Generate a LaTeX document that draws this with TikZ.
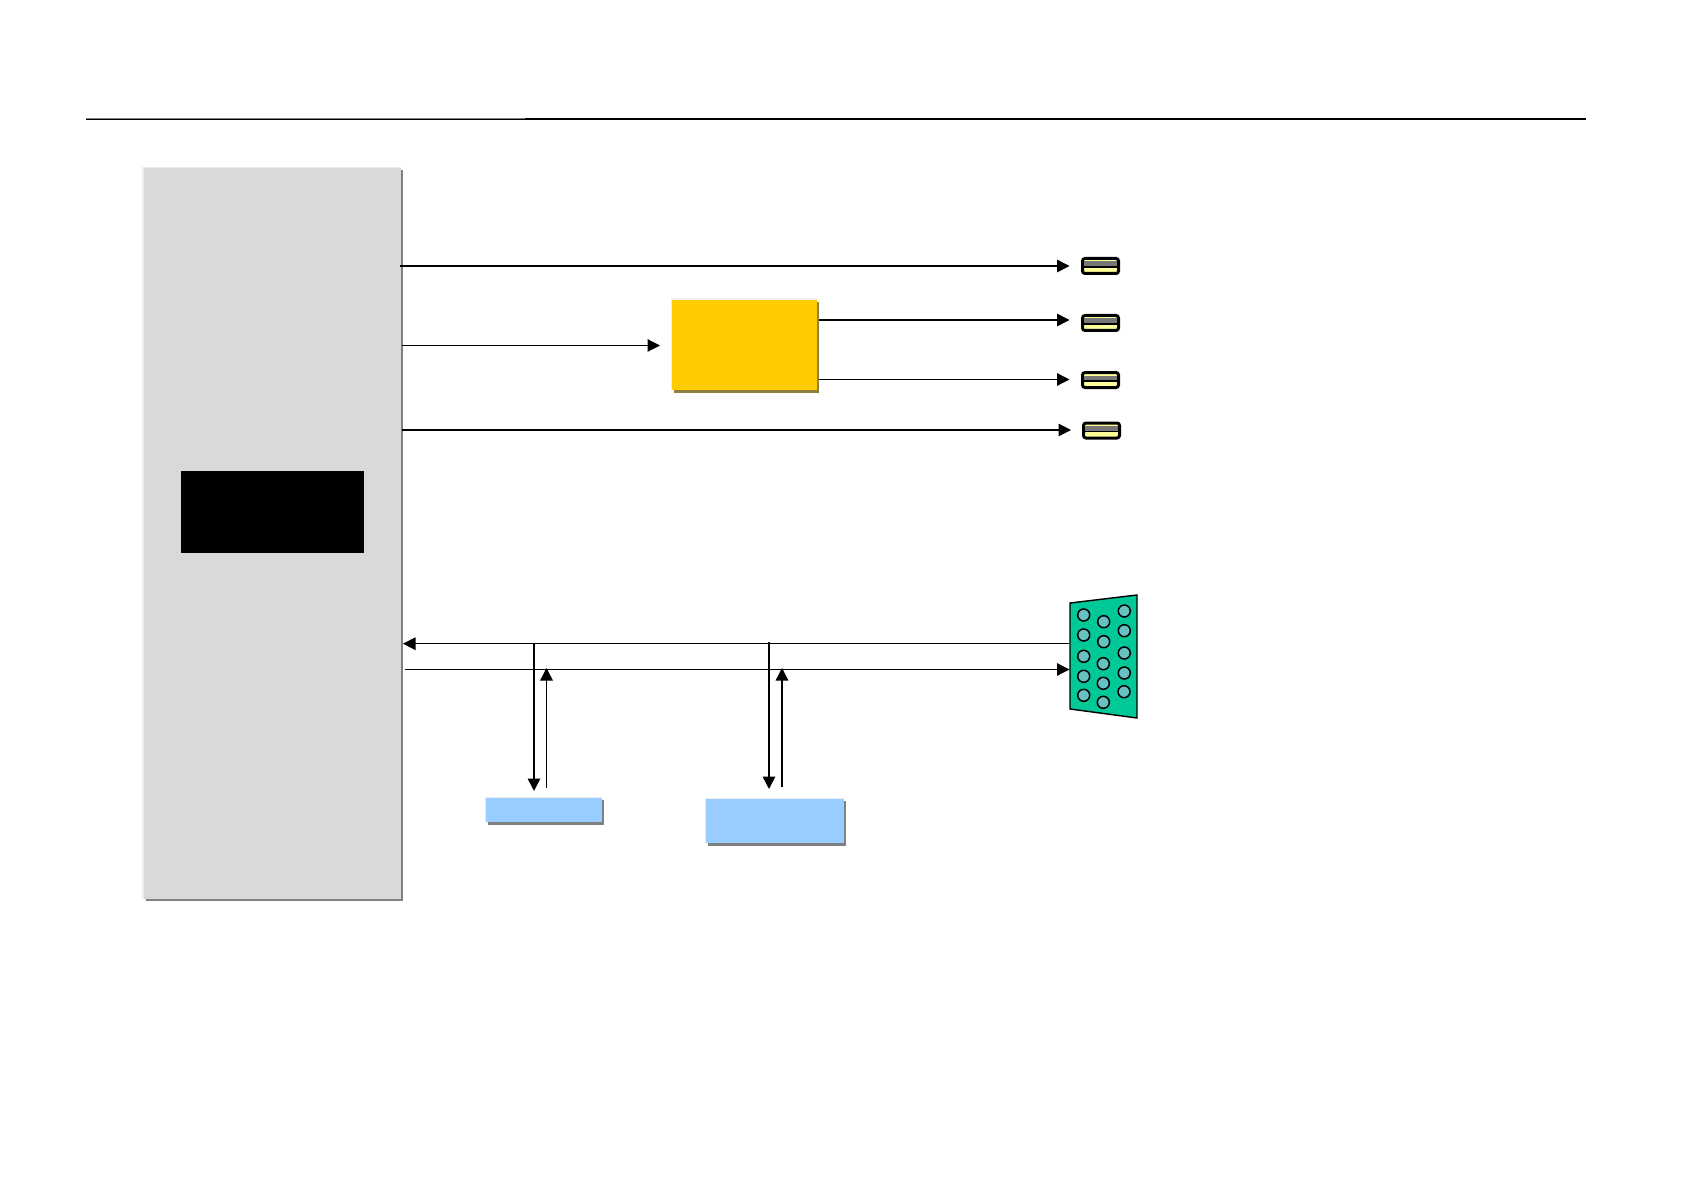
\documentclass[tikz,border=0pt]{standalone}
\usetikzlibrary{arrows.meta}
\definecolor{socgray}{HTML}{D9D9D9}
\definecolor{shadowgray}{HTML}{808080}
\definecolor{hubshadow}{HTML}{8C7F40}
\definecolor{edgelight}{HTML}{EDEDED}
\definecolor{bufyellow}{HTML}{FFCC00}
\definecolor{memblue}{HTML}{99CCFF}
\definecolor{vgagreen}{HTML}{00C896}
\definecolor{pinteal}{HTML}{66C2C2}
\definecolor{usbyellow}{HTML}{FFFF99}
\definecolor{usbgray}{HTML}{777777}
\tikzset{
  x=1pt,y=-1pt,
  flatbox/.style={draw=none,inner sep=0pt,outer sep=0pt,anchor=north west},
  wire/.style={draw=black,line width=1.5pt},
  thinwire/.style={draw=black,line width=1.2pt},
  tip/.style={-{Triangle[length=12.5pt,width=12.5pt]}},
  pin/.style={circle,draw=black,line width=1.5pt,fill=pinteal,minimum size=12pt,inner sep=0pt},
  usbshell/.style={flatbox,draw=black,line width=3pt,fill=usbyellow,rounded corners=2.5pt,minimum width=36pt,minimum height=15pt},
}
\newcommand{\usbport}[3]{%
  \node[usbshell] (#1) at (#2,#3) {};
  \fill[usbgray] (#2+1.5,#3+3) rectangle (#2+34.5,#3+8);
  \draw[black,line width=1.2pt] (#2+1,#3+8.5) -- (#2+35,#3+8.5);
}
\newcommand{\shadowbox}[7]{% name, x, y, w, h, colour, shadow colour
  \fill[edgelight] (#2-1.5,#3-1.5) rectangle (#2+#4,#3+#5);
  \fill[#7] (#2+2,#3+2) rectangle (#2+#4+2,#3+#5+2.5);
  \node[flatbox,fill=#6,minimum width=#4pt,minimum height=#5pt] (#1) at (#2,#3) {};
}
\begin{document}
\begin{tikzpicture}
\useasboundingbox[fill=white] (0,0) rectangle (1684,1190);

% top rule
\coordinate (ruleL) at (86,119);
\coordinate (ruleM) at (525,119);
\coordinate (ruleR) at (1586,119);
\draw[shadowgray,line width=1.6pt] (ruleL) -- (ruleM);
\draw[black,line width=0.7pt] (ruleL) -- (ruleM);
\draw[black,line width=1.4pt] (ruleM) -- (ruleR);

% main blocks
\shadowbox{soc}{143.5}{168.5}{257.5}{730}{socgray}{shadowgray}
\node[flatbox,fill=black,minimum width=183pt,minimum height=82.5pt] (chip) at (181,470.5) {};
\shadowbox{hub}{672}{300}{144.5}{90}{bufyellow}{hubshadow}
\shadowbox{memA}{486}{798}{116}{24}{memblue}{shadowgray}
\shadowbox{memB}{706}{799}{138}{44}{memblue}{shadowgray}

% USB ports
\usbport{usbA}{1082.5}{258.5}
\usbport{usbB}{1082.5}{315.5}
\usbport{usbC}{1082.5}{372.5}
\usbport{usbD}{1083.5}{423}

% VGA connector
\draw[black,line width=1.4pt,fill=vgagreen] (1070,603) -- (1137,595) -- (1137,718) -- (1070,709) -- cycle;
\foreach \n/\px/\py in {a/1083.7/615,b/1083.7/635,c/1083.7/656.3,d/1083.7/676.3,e/1083.7/695.3,
                    f/1103.7/621.7,g/1103.7/641.7,h/1103.3/663.7,i/1103.3/683.3,j/1103.3/702.3,
                    k/1124.3/611,l/1124.3/630.7,m/1124.3/653,n/1124.3/673,o/1124/691.7}
  \node[pin] (pin\n) at (\px,\py) {};

% free ends of the connectors
\coordinate (endA) at (1069.5,266);
\coordinate (endB) at (1069.5,320);
\coordinate (endC) at (1069.5,379.5);
\coordinate (endD) at (1071,430);
\coordinate (hubIn) at (660,345.5);
\coordinate (hubOutB) at (819,320);
\coordinate (hubOutC) at (819,379.5);
\coordinate (socA) at (400,266);
\coordinate (socH) at (402,345.5);
\coordinate (socD) at (402,430);
\coordinate (busRxL) at (403,643.7);
\coordinate (busRxR) at (1069,643.7);
\coordinate (busTxL) at (405,669.5);
\coordinate (busTxR) at (1069.5,669.5);
\coordinate (tapA) at (534,643);
\coordinate (tapAe) at (534,791);
\coordinate (upA) at (546.5,788);
\coordinate (upAe) at (546.5,668);
\coordinate (tapB) at (769,642);
\coordinate (tapBe) at (769,789);
\coordinate (upB) at (782,787);
\coordinate (upBe) at (782,668);

% connectors
\draw[wire,tip] (socA) -- (endA);
\draw[thinwire,tip] (socH) -- (hubIn);
\draw[wire,tip] (hubOutB) -- (endB);
\draw[thinwire,tip] (hubOutC) -- (endC);
\draw[thinwire,tip] (socD) -- (endD);
\draw[wire,tip] (busRxR) -- (busRxL);
\draw[thinwire,tip] (busTxL) -- (busTxR);
\draw[wire,tip] (tapA) -- (tapAe);
\draw[wire,tip] (upA) -- (upAe);
\draw[wire,tip] (tapB) -- (tapBe);
\draw[wire,tip] (upB) -- (upBe);
\end{tikzpicture}
\end{document}
